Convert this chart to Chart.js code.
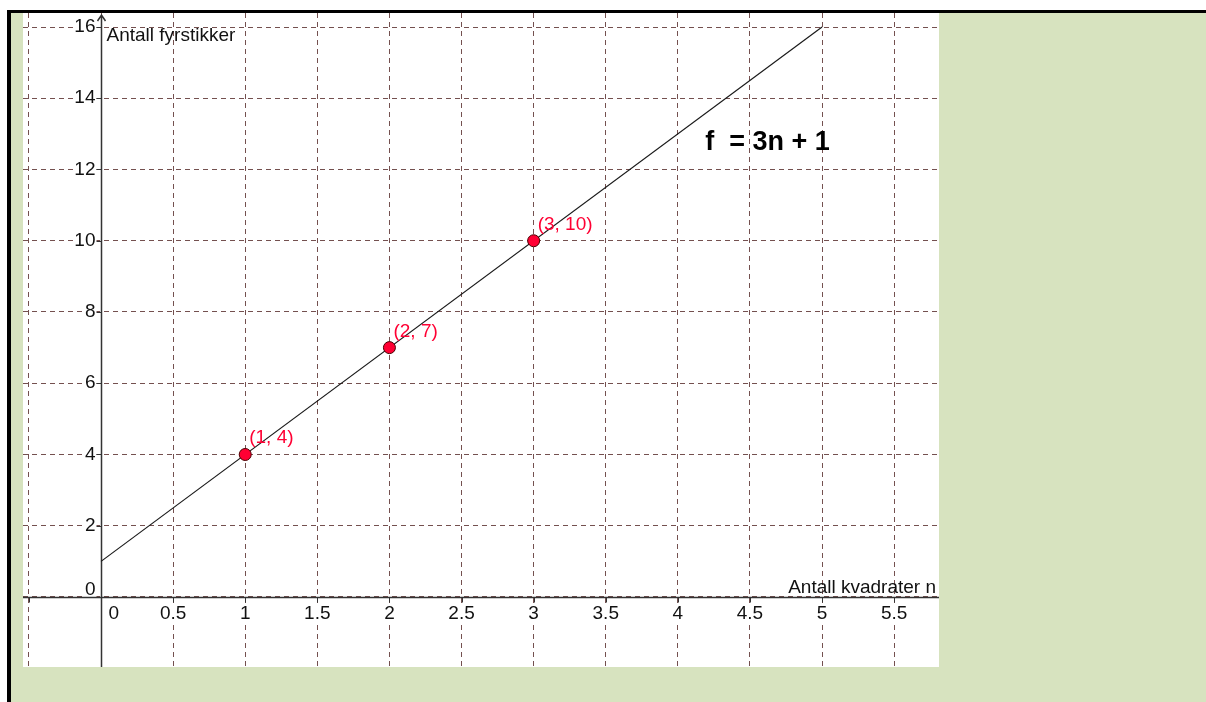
<!DOCTYPE html>
<html>
<head>
<meta charset="utf-8">
<script src="https://cdn.jsdelivr.net/npm/chart.js@4"></script>
<style>
  html, body { margin: 0; padding: 0; background: #ffffff; }
  #wrap { width: 1206px; height: 702px; }
</style>
</head>
<body>
<div id="wrap"><canvas id="c" width="1206" height="702"></canvas></div>
<script>
// ---- data ----
const pointN = [1, 2, 3];            // Antall kvadrater n
const pointF = [4, 7, 10];           // Antall fyrstikker
const lineN = [0, 5];                // f = 3n + 1 drawn segment ends
const lineF = [1, 16];
const xStep = 0.5;
const yStep = 2;
const xTitle = 'Antall kvadrater n';
const yTitle = 'Antall fyrstikker';
const formulaText = 'f  = 3n + 1';

const FONT = '"Liberation Sans", Arial, sans-serif';
const GRID = '#74504f';
const AXIS = '#333333';
const RED = '#ff0033';

const frame = {
  id: 'frame',
  beforeDraw(chart) {
    const ctx = chart.ctx, a = chart.chartArea;
    ctx.save();
    ctx.fillStyle = '#ffffff';
    ctx.fillRect(0, 0, 1206, 702);
    ctx.fillStyle = '#d7e3bf';
    ctx.fillRect(11, 13, 1206 - 11, 702 - 13);
    ctx.fillStyle = '#000000';
    ctx.fillRect(7, 10, 1206 - 7, 3);
    ctx.fillRect(7, 10, 4, 702 - 10);
    ctx.fillStyle = '#ffffff';
    ctx.fillRect(a.left, a.top, a.right - a.left, a.bottom - a.top);
    ctx.restore();
  }
};

function labelBox(ctx, text, x, y) {
  const w = ctx.measureText(text).width;
  let left = x;
  if (ctx.textAlign === 'center') left = x - w / 2;
  else if (ctx.textAlign === 'right') left = x - w;
  const fs = ctx.fillStyle;
  ctx.fillStyle = '#ffffff';
  ctx.fillRect(left - 1, y - 8, w + 2, 16);
  ctx.fillStyle = fs;
  ctx.fillText(text, x, y);
}

const axes = {
  id: 'axes',
  beforeDatasetsDraw(chart) {
    const ctx = chart.ctx, a = chart.chartArea;
    const xs = chart.scales.x, ys = chart.scales.y;
    const ox = Math.round(xs.getPixelForValue(0)) + 0.5;
    const oy = Math.round(ys.getPixelForValue(0)) + 0.5;
    ctx.save();
    ctx.beginPath();
    ctx.rect(a.left, a.top, a.right - a.left, a.bottom - a.top);
    ctx.clip();
    ctx.fillStyle = '#111';
    ctx.font = '19px ' + FONT;
    ctx.textBaseline = 'middle';
    xs.ticks.forEach(t => {
      if (t.value < 0) return;
      const px = xs.getPixelForValue(t.value);
      if (t.value === 0) {
        ctx.textAlign = 'left';
        labelBox(ctx, '0', ox + 7, oy + 16);
      } else {
        ctx.textAlign = 'center';
        labelBox(ctx, String(t.value), px, oy + 16);
      }
    });
    ctx.textAlign = 'right';
    ys.ticks.forEach(t => {
      if (t.value < 0) return;
      const py = ys.getPixelForValue(t.value);
      if (t.value === 0) labelBox(ctx, '0', ox - 6, oy - 8);
      else labelBox(ctx, String(t.value), ox - 6, py);
    });
    ctx.textAlign = 'left';
    ctx.fillText(yTitle, ox + 5, a.top + 23);
    ctx.textAlign = 'right';
    ctx.textBaseline = 'alphabetic';
    ctx.fillText(xTitle, a.right - 3, oy - 5);

    ctx.strokeStyle = AXIS;
    ctx.lineWidth = 1.5;
    ctx.setLineDash([]);
    ctx.beginPath();
    ctx.moveTo(a.left, oy); ctx.lineTo(a.right, oy);
    ctx.stroke();
    const topY = a.top + 2;
    ctx.beginPath();
    ctx.moveTo(ox, a.bottom); ctx.lineTo(ox, topY);
    ctx.moveTo(ox - 4, topY + 6); ctx.lineTo(ox, topY); ctx.lineTo(ox + 4, topY + 6);
    ctx.stroke();
    ctx.lineWidth = 1;
    ctx.beginPath();
    xs.ticks.forEach(t => {
      if (t.value === 0) return;
      const px = Math.round(xs.getPixelForValue(t.value)) + 0.5;
      ctx.moveTo(px, oy); ctx.lineTo(px, oy + 5);
    });
    ys.ticks.forEach(t => {
      if (t.value === 0) return;
      const py = Math.round(ys.getPixelForValue(t.value)) + 0.5;
      ctx.moveTo(ox - 5, py); ctx.lineTo(ox, py);
    });
    ctx.stroke();
    ctx.restore();
  },
  afterDatasetsDraw(chart) {
    const ctx = chart.ctx;
    const xs = chart.scales.x, ys = chart.scales.y;
    ctx.save();
    ctx.fillStyle = RED;
    ctx.font = '19px ' + FONT;
    ctx.textAlign = 'left';
    ctx.textBaseline = 'alphabetic';
    pointN.forEach((n, i) => {
      const px = xs.getPixelForValue(n), py = ys.getPixelForValue(pointF[i]);
      ctx.fillText('(' + n + ', ' + pointF[i] + ')', px + 4, py - 11);
    });
    ctx.fillStyle = '#000';
    ctx.font = 'bold 27px ' + FONT;
    ctx.fillText(formulaText, xs.getPixelForValue(4.19), ys.getPixelForValue(12.55));
    ctx.restore();
  }
};

new Chart(document.getElementById('c'), {
  type: 'scatter',
  data: {
    datasets: [
      {
        type: 'line',
        label: 'f',
        data: lineN.map((n, i) => ({ x: n, y: lineF[i] })),
        borderColor: '#1a1a1a',
        borderWidth: 1.2,
        pointRadius: 0,
        fill: false,
        order: 2
      },
      {
        label: 'punkter',
        data: pointN.map((n, i) => ({ x: n, y: pointF[i] })),
        backgroundColor: RED,
        borderColor: '#4a0000',
        borderWidth: 1,
        pointRadius: 6,
        order: 1
      }
    ]
  },
  options: {
    responsive: false,
    animation: false,
    events: [],
    layout: { padding: { left: 23, top: 13, right: 267, bottom: 35 } },
    plugins: { legend: { display: false }, tooltip: { enabled: false } },
    scales: {
      x: {
        type: 'linear',
        min: -0.541, max: 5.811,
        ticks: { display: false, stepSize: xStep, includeBounds: false },
        grid: { color: GRID, lineWidth: 1, drawTicks: false, borderDash: [5, 4] },
        border: { display: false, dash: [5, 4] },
        afterFit(s) { s.height = 0; }
      },
      y: {
        type: 'linear',
        min: -1.965, max: 16.393,
        ticks: { display: false, stepSize: yStep, includeBounds: false },
        grid: { color: GRID, lineWidth: 1, drawTicks: false, borderDash: [5, 4] },
        border: { display: false, dash: [5, 4] },
        afterFit(s) { s.width = 0; }
      }
    }
  },
  plugins: [frame, axes]
});
</script>
</body>
</html>
